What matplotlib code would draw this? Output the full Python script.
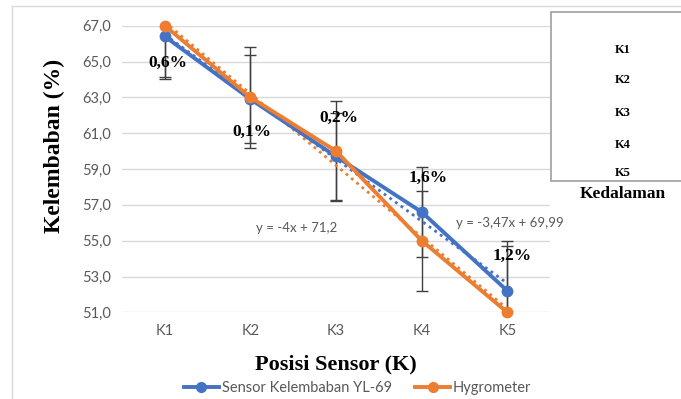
import matplotlib.pyplot as plt
import numpy as np
from matplotlib.lines import Line2D
from matplotlib.patches import Rectangle

# data
categories = ['K1', 'K2', 'K3', 'K4', 'K5']
sensor = [66.4, 62.9, 59.7, 56.6, 52.2]
hygro = [67.0, 63.0, 60.0, 55.0, 51.0]
sensor_err = [2.25, 2.45, 2.4, 2.5, 2.5]
hygro_err = [3.0, 2.8, 2.8, 2.8, 4.0]
diff_labels = ['0,6%', '0,1%', '0,2%', '1,6%', '1,2%']
label_pos = [(1.04, 64.92), (2.02, 61.06), (3.03, 61.85), (4.07, 58.48), (5.06, 54.13)]
eq_sensor = 'y = -3,47x + 69,99'
eq_hygro = 'y = -4x + 71,2'
yticks = [51, 53, 55, 57, 59, 61, 63, 65, 67]

BLUE = '#4472C4'
ORANGE = '#ED7D31'
GRAY_TXT = '#595959'
SERIF = 'Liberation Serif'
SANS = 'Lato'

fig = plt.figure(figsize=(6.81, 3.99), dpi=100)
ax = fig.add_axes([0.179, 0.217, 0.629, 0.7187])

x = np.arange(1, len(categories) + 1)

# error bars
ax.errorbar(x, sensor, yerr=sensor_err, fmt='none', ecolor='#404040',
            elinewidth=1, capsize=4, capthick=1, zorder=2)
ax.errorbar(x, hygro, yerr=hygro_err, fmt='none', ecolor='#404040',
            elinewidth=1, capsize=4, capthick=1, zorder=2)

# linear trendlines
for vals, col in [(sensor, BLUE), (hygro, ORANGE)]:
    k, b = np.polyfit(x, vals, 1)
    ax.plot(x, k * x + b, linestyle=(0, (1, 1.5)), color=col, lw=2, zorder=3)

ax.plot(x, sensor, color=BLUE, lw=2.8, marker='o', ms=7.5, zorder=4, clip_on=False)
ax.plot(x, hygro, color=ORANGE, lw=2.8, marker='o', ms=7.5, zorder=5, clip_on=False)

for txt, (px, py) in zip(diff_labels, label_pos):
    ax.text(px, py, txt, ha='center', va='center', fontsize=12.5,
            fontweight='bold', family=SERIF, zorder=6)

ax.text(2.54, 55.7, eq_hygro, ha='center', va='center', fontsize=9.5,
        color=GRAY_TXT, family=SANS)
ax.text(5.03, 55.98, eq_sensor, ha='center', va='center', fontsize=9.5,
        color=GRAY_TXT, family=SANS)

ax.set_xlim(0.5, 5.5)
ax.set_ylim(51, 67)
ax.set_xticks(x)
ax.set_xticklabels(categories)
ax.set_yticks(yticks)
ax.set_yticklabels([f'{v:.1f}'.replace('.', ',') for v in yticks])
ax.tick_params(length=0, labelsize=10.5, labelcolor=GRAY_TXT, pad=8)
for lab in ax.get_xticklabels() + ax.get_yticklabels():
    lab.set_family(SANS)
ax.grid(axis='y', color='#D9D9D9', lw=1)
ax.set_axisbelow(True)
for s in ax.spines.values():
    s.set_visible(False)

ax.set_xlabel('Posisi Sensor (K)', fontsize=16, fontweight='bold', family=SERIF, labelpad=12)
ax.set_ylabel('Kelembaban (%)', fontsize=17, fontweight='bold', family=SERIF,
              va='center', ha='center')
ax.yaxis.set_label_coords(-0.157, 0.58)

# legend at the bottom
handles = [Line2D([], [], color=BLUE, lw=2.8, marker='o', ms=7),
           Line2D([], [], color=ORANGE, lw=2.8, marker='o', ms=7)]
leg = fig.legend(handles, ['Sensor Kelembaban YL-69', 'Hygrometer'],
                 loc='center', bbox_to_anchor=(0.525, 0.028), ncol=2, frameon=False,
                 handlelength=2.4, handletextpad=0.2, columnspacing=1.6,
                 prop={'family': SANS, 'size': 10.5})
for t in leg.get_texts():
    t.set_color(GRAY_TXT)

# outer chart border (top and left visible)
fig.add_artist(Line2D([12 / 681, 1.0], [1 - 6 / 399, 1 - 6 / 399], color='#D9D9D9', lw=1))
fig.add_artist(Line2D([12 / 681, 12 / 681], [0, 1 - 6 / 399], color='#D9D9D9', lw=1))

# depth box on the right
fig.add_artist(Rectangle((551 / 681, 1 - 181 / 399), 0.3, 169 / 399,
                         facecolor='white', edgecolor='#A6A6A6', lw=1.3, zorder=10))
for cat, py in zip(categories, [50, 80, 113, 145, 173]):
    fig.text(623 / 681, 1 - py / 399, cat, ha='center', va='center', fontsize=9,
             fontweight='bold', family=SERIF, zorder=11)
fig.text(623 / 681, 1 - 194 / 399, 'Kedalaman', ha='center', va='center', fontsize=12.5,
         fontweight='bold', family=SERIF, zorder=11)

fig.savefig('out.png', dpi=100)
